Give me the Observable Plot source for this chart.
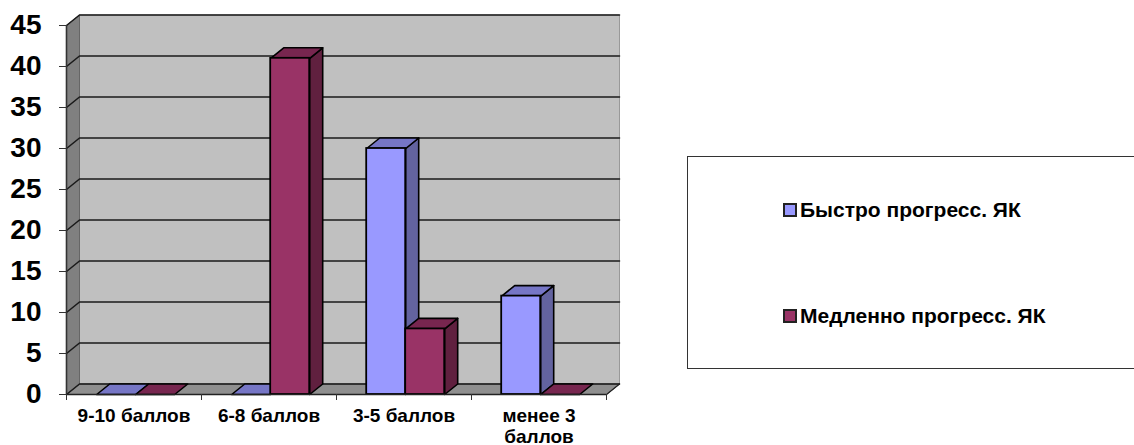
<!DOCTYPE html>
<html><head><meta charset="utf-8">
<script src="https://cdn.jsdelivr.net/npm/d3@7"></script>
<script src="https://cdn.jsdelivr.net/npm/@observablehq/plot@0.6"></script>
<style>
html,body{margin:0;padding:0;background:#fff;overflow:hidden}
#wrap{position:relative;width:1134px;height:445px;font-family:"Liberation Sans",Arial,sans-serif}
#legend{position:absolute;left:687px;top:156px;width:460px;height:213px;border:1px solid #333;box-sizing:border-box;background:#fff}
.item{position:absolute;left:95px;display:flex;align-items:center;font-weight:bold;font-size:21px;color:#000;white-space:nowrap}
.sw{width:10px;height:10px;border:2px solid #222;margin-right:3px}
</style></head><body><div id="wrap"></div>
<script>
const categories = ["9-10 баллов", "6-8 баллов", "3-5 баллов", "менее 3\nбаллов"];
const seriesNames = ["Быстро прогресс. ЯК", "Медленно прогресс. ЯК"];
const fastValues = [0, 0, 30, 12];
const slowValues = [0, 41, 8, 0];
const yTicks = [0, 5, 10, 15, 20, 25, 30, 35, 40, 45];

const front = ["#9999ff", "#993366"], side = ["#63639f", "#60203f"], topFace = ["#7676c6", "#77264f"];
const barW = 0.2889, gap = 0.2237, dX = 13 / 135, dY = 10.5 / 8.2, yMax = 45, n = categories.length;

const bars = [];
categories.forEach((c, i) => [fastValues, slowValues].forEach((vals, s) => {
  const x1 = i + gap + s * barW;
  bars.push({i, s, x1, x2: x1 + barW, v: vals[i]});
}));
const faces = [];
bars.forEach((b, k) => {
  const poly = (name, fill, pts) => [...pts, pts[0]].forEach(([x, y]) => faces.push({id: k + name, fill, x, y}));
  if (b.v > 0) poly("s", side[b.s], [[b.x2, 0], [b.x2 + dX, dY], [b.x2 + dX, b.v + dY], [b.x2, b.v]]);
  poly("t", topFace[b.s], [[b.x1, b.v], [b.x2, b.v], [b.x2 + dX, b.v + dY], [b.x1 + dX, b.v + dY]]);
});
const poly = pts => [...pts, pts[0]].map(([x, y]) => ({x, y}));
const chart = Plot.plot({
  width: 1134, height: 445, marginLeft: 66, marginRight: 528, marginTop: 25, marginBottom: 51,
  style: {background: "transparent", fontFamily: '"Liberation Sans",Arial,sans-serif', overflow: "visible"},
  x: {type: "linear", domain: [0, n]},
  y: {domain: [0, yMax]},
  marks: [
    Plot.line(poly([[dX, dY], [n + dX, dY], [n + dX, yMax + dY], [dX, yMax + dY]]), {x: "x", y: "y", fill: "#c0c0c0", stroke: "#999", strokeWidth: 1}),
    Plot.line(poly([[0, 0], [dX, dY], [dX, yMax + dY], [0, yMax]]), {x: "x", y: "y", fill: "#808080", stroke: "#666", strokeWidth: 1}),
    Plot.line(poly([[0, 0], [n, 0], [n + dX, dY], [dX, dY]]), {x: "x", y: "y", fill: "#8f8f8f", stroke: "#666", strokeWidth: 1}),
    Plot.line(yTicks.flatMap(v => [{v, x: 0, y: v}, {v, x: dX, y: v + dY}, {v, x: n + dX, y: v + dY}]), {x: "x", y: "y", z: "v", stroke: "#1a1a1a", strokeWidth: 1.6}),
    Plot.line([{x: n, y: 0}, {x: n + dX, y: dY}], {x: "x", y: "y", stroke: "#222", strokeWidth: 1.2}),
    Plot.line(faces, {x: "x", y: "y", z: "id", fill: "fill", stroke: "#000", strokeWidth: 1.6}),
    Plot.rectY(bars.filter(b => b.v > 0), {x1: "x1", x2: "x2", y: "v", fill: d => front[d.s], stroke: "#000", strokeWidth: 1.8, inset: 0}),
    Plot.ruleX([0], {stroke: "#333", strokeWidth: 1.6}),
    Plot.ruleY([0], {stroke: "#222", strokeWidth: 1.6}),
    Plot.axisY({ticks: yTicks, tickSize: 7, tickPadding: 18, fontSize: 28, fontWeight: "bold", fill: "#000", stroke: "#333", label: null}),
    Plot.axisX({ticks: d3.range(0, n + 1), tickSize: 6, tickFormat: () => "", stroke: "#333", label: null}),
    Plot.axisX({ticks: categories.map((c, i) => i + 0.5), tickSize: 0, tickPadding: 13, tickFormat: v => categories[v - 0.5], fontSize: 19, fontWeight: "bold", fill: "#000", lineHeight: 1.1, label: null})
  ]
});
const wrap = document.getElementById("wrap");
wrap.appendChild(chart);
const legend = document.createElement("div");
legend.id = "legend";
seriesNames.forEach((name, i) => {
  const it = document.createElement("div");
  it.className = "item";
  it.style.top = (i === 0 ? 41 : 147) + "px";
  const sw = document.createElement("span");
  sw.className = "sw";
  sw.style.background = front[i];
  it.appendChild(sw);
  it.appendChild(document.createTextNode(name));
  legend.appendChild(it);
});
wrap.appendChild(legend);
</script></body></html>
